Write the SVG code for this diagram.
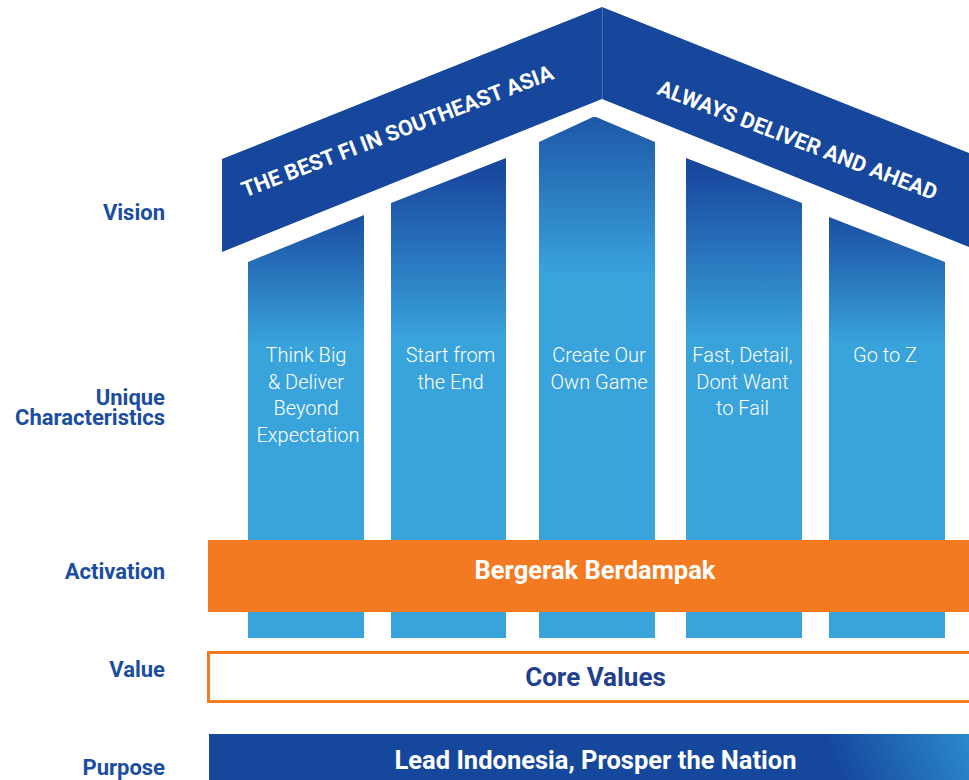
<svg xmlns="http://www.w3.org/2000/svg" width="969" height="780" viewBox="0 0 969 780">
  <defs>
    <!-- pillar shading: deep blue at the top fading to sky blue -->
    <linearGradient id="gOuter" gradientUnits="userSpaceOnUse" x1="0" y1="215" x2="0" y2="345">
      <stop offset="0" stop-color="#1A4DA0"/>
      <stop offset="1" stop-color="#39A3DC"/>
    </linearGradient>
    <linearGradient id="gInner" gradientUnits="userSpaceOnUse" x1="0" y1="170" x2="0" y2="340">
      <stop offset="0" stop-color="#18489E"/>
      <stop offset="1" stop-color="#39A3DC"/>
    </linearGradient>
    <linearGradient id="gCenter" gradientUnits="userSpaceOnUse" x1="0" y1="95" x2="0" y2="275">
      <stop offset="0" stop-color="#1A4DA0"/>
      <stop offset="1" stop-color="#39A3DC"/>
    </linearGradient>
    <linearGradient id="gPurpose" gradientUnits="userSpaceOnUse" x1="845" y1="790" x2="985" y2="730">
      <stop offset="0" stop-color="#15479D"/>
      <stop offset="1" stop-color="#2E92D0"/>
    </linearGradient>
    <style>
      .lbl { font-family: Roboto, "Liberation Sans", sans-serif; font-weight: 700; font-size: 22px; fill: #1B4DA0; text-anchor: end; }
      .pil { font-family: Roboto, "Liberation Sans", sans-serif; font-weight: 300; font-size: 20px; fill: #FFFFFF; text-anchor: middle; }
      .roof { font-family: Roboto, "Liberation Sans", sans-serif; font-weight: 700; font-size: 21.6px; fill: #FFFFFF; text-anchor: middle; }
      .band { font-family: Roboto, "Liberation Sans", sans-serif; font-weight: 700; text-anchor: middle; }
    </style>
  </defs>

  <rect width="969" height="780" fill="#FFFFFF"/>

  <!-- row labels -->
  <g id="labels">
    <text class="lbl" x="165" y="220">Vision</text>
    <text class="lbl" x="165" y="405">Unique</text>
    <text class="lbl" x="165" y="425">Characteristics</text>
    <text class="lbl" x="165" y="578.5">Activation</text>
    <text class="lbl" x="165" y="677">Value</text>
    <text class="lbl" x="165" y="774.5">Purpose</text>
  </g>

  <!-- roof -->
  <g id="roof-left">
    <polygon points="222,159 602,7 602,99 222,252" fill="#16479C"/>
    <text class="roof" x="400" y="138" transform="rotate(-21 400 138)">THE BEST FI IN SOUTHEAST ASIA</text>
  </g>
  <g id="roof-right">
    <polygon points="602,7 969,153 969,247 602,99" fill="#16479C"/>
    <text class="roof" x="795" y="147" transform="rotate(21 795 147)">ALWAYS DELIVER AND AHEAD</text>
  </g>
  <line x1="602.3" y1="7" x2="602.3" y2="99" stroke="#5A7FC0" stroke-width="0.8"/>

  <!-- pillars -->
  <g id="pillar-1">
    <polygon points="248,262 364,215 364,638 248,638" fill="url(#gOuter)"/>
    <text class="pil" x="306" y="362">Think Big</text>
    <text class="pil" x="306" y="388.5">&amp; Deliver</text>
    <text class="pil" x="306" y="415">Beyond</text>
    <text class="pil" x="308" y="441.5">Expectation</text>
  </g>
  <g id="pillar-2">
    <polygon points="391,203 506,158 506,638 391,638" fill="url(#gInner)"/>
    <text class="pil" x="450.5" y="362">Start from</text>
    <text class="pil" x="450.5" y="388.5">the End</text>
  </g>
  <g id="pillar-3">
    <polygon points="539,142 593,117 596,117 655,142 655,638 539,638" fill="url(#gCenter)"/>
    <text class="pil" x="599" y="362">Create Our</text>
    <text class="pil" x="599" y="388.5">Own Game</text>
  </g>
  <g id="pillar-4">
    <polygon points="686,158 802,203 802,638 686,638" fill="url(#gInner)"/>
    <text class="pil" x="742.5" y="362">Fast, Detail,</text>
    <text class="pil" x="742.5" y="388.5">Dont Want</text>
    <text class="pil" x="742.5" y="415">to Fail</text>
  </g>
  <g id="pillar-5">
    <polygon points="829,217 945,262 945,638 829,638" fill="url(#gOuter)"/>
    <text class="pil" x="885" y="362">Go to Z</text>
  </g>

  <!-- activation band -->
  <g id="activation">
    <rect x="208" y="540" width="761" height="72" fill="#F47A22"/>
    <text class="band" x="595" y="578.5" font-size="25.5" fill="#FFFFFF">Bergerak Berdampak</text>
  </g>

  <!-- value band -->
  <g id="value">
    <rect x="208.5" y="652.5" width="765" height="49" fill="#FFFFFF" stroke="#F47A22" stroke-width="3"/>
    <text class="band" x="595.5" y="686" font-size="26" fill="#233F8F">Core Values</text>
  </g>

  <!-- purpose band -->
  <g id="purpose">
    <rect x="209" y="734" width="760" height="46" fill="url(#gPurpose)"/>
    <text class="band" x="595.5" y="768.5" font-size="25.5" fill="#FFFFFF">Lead Indonesia, Prosper the Nation</text>
  </g>
</svg>
